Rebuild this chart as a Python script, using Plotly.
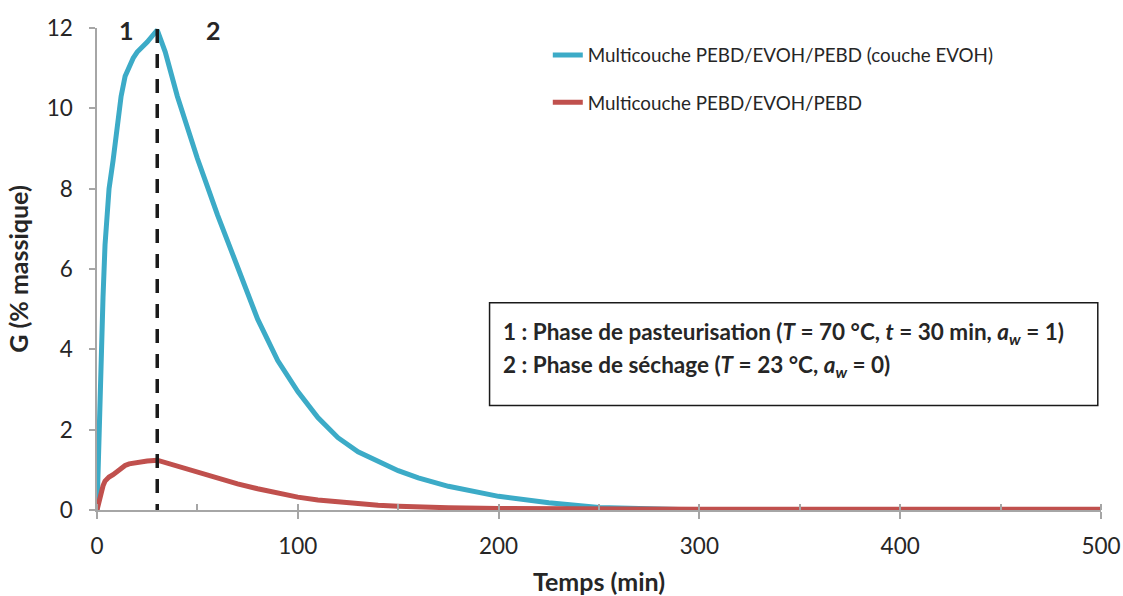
import plotly.graph_objects as go

# ---- data ----
temps = [0, 1, 2, 3, 4, 5, 6, 8, 10, 12, 14, 16, 18, 20, 25, 30, 34, 40, 45, 50,
         55, 60, 70, 80, 90, 100, 110, 120, 130, 140, 150, 160, 175, 200, 225,
         250, 275, 300, 350, 400, 450, 500]
g_evoh = [0, 2.0, 3.8, 5.3, 6.6, 7.5, 8.0, 8.7, 9.5, 10.3, 10.8, 11.05, 11.25, 11.4,
          11.65, 11.95, 11.4, 10.3, 9.5, 8.75, 8.05, 7.35, 6.05, 4.75, 3.72, 2.95,
          2.3, 1.8, 1.45, 1.2, 0.98, 0.8, 0.59, 0.34, 0.18, 0.06, 0.02, 0, 0, 0, 0, 0]
g_multi = [0, 0.22, 0.45, 0.6, 0.72, 0.78, 0.82, 0.88, 0.97, 1.06, 1.11, 1.15, 1.17,
           1.19, 1.22, 1.24, 1.18, 1.09, 1.02, 0.95, 0.88, 0.8, 0.65, 0.53, 0.42,
           0.32, 0.25, 0.2, 0.155, 0.12, 0.095, 0.075, 0.055, 0.04, 0.03, 0.02,
           0.02, 0.02, 0.02, 0.02, 0.02, 0.02]
series_names = ["Multicouche PEBD/EVOH/PEBD (couche EVOH)", "Multicouche PEBD/EVOH/PEBD"]
x_ticks = [0, 100, 200, 300, 400, 500]
y_ticks = [0, 2, 4, 6, 8, 10, 12]
phase_change = 30
phase_labels = ["1", "2"]
phase_label_x = [14.6, 58]
box_lines = ["1 : Phase de pasteurisation (<i>T</i> = 70 °C, <i>t</i> = 30 min, <i>a<sub>w</sub></i> = 1)",
             "2 : Phase de séchage (<i>T</i> = 23 °C, <i>a<sub>w</sub></i> = 0)"]

FONT = "Lato, 'Open Sans', sans-serif"
BLUE = "#3CABC7"
RED = "#C0504D"
AX = "#A6A6A6"
TXT = "#262626"

fig = go.Figure()
fig.add_trace(go.Scatter(x=temps, y=g_evoh, mode="lines", name=series_names[0],
                         legendgroup="a", line=dict(color=BLUE, width=5)))
fig.add_trace(go.Scatter(x=temps, y=g_multi, mode="lines", name=series_names[1],
                         legendgroup="b", line=dict(color=RED, width=5)))

# dashed phase separator
fig.add_shape(type="line", x0=phase_change, x1=phase_change, y0=-0.2, y1=12,
              xref="x", yref="y", line=dict(color="#1a1a1a", width=3.5, dash="14px,11px"))

# phase labels
for lab, lx in zip(phase_labels, phase_label_x):
    fig.add_annotation(x=lx, y=11.95, xref="x", yref="y", text=f"<b>{lab}</b>",
                       showarrow=False, font=dict(family=FONT, size=25, color=TXT))

# info box
fig.add_shape(type="rect", x0=195.5, x1=498.4, y0=2.6, y1=5.16, xref="x", yref="y",
              line=dict(color="#1a1a1a", width=1.5), fillcolor="white", layer="above")
for i, line in enumerate(box_lines):
    fig.add_annotation(x=201, y=4.41 - i * 0.82, xref="x", yref="y", xanchor="left",
                       text=f"<b>{line}</b>", showarrow=False,
                       font=dict(family=FONT, size=22.5, color=TXT))

fig.update_layout(
    width=1123, height=596,
    margin=dict(l=97, r=22, t=28, b=85.5),
    plot_bgcolor="white", paper_bgcolor="white",
    font=dict(family=FONT, size=22.5, color=TXT),
    legend=dict(x=0.449, y=0.983, xanchor="left", yanchor="top",
                font=dict(family=FONT, size=18.8, color=TXT),
                tracegroupgap=20, bgcolor="rgba(0,0,0,0)"),
    xaxis=dict(range=[0, 500], tickvals=x_ticks, showgrid=False, zeroline=False,
               showline=True, linecolor=AX, linewidth=1.5, automargin=False,
               ticks="outside", ticklen=7, tickcolor=AX, tickwidth=1.5,
               minor=dict(dtick=50, ticks="inside", ticklen=6, tickcolor=AX, tickwidth=1.5),
               ticklabelstandoff=8,
               tickfont=dict(family=FONT, size=22.5, color=TXT),
               title=dict(text="<b>Temps (min)</b>", standoff=18,
                          font=dict(family=FONT, size=25, color=TXT))),
    yaxis=dict(range=[0, 12], tickvals=y_ticks, showgrid=False, zeroline=False,
               showline=True, linecolor=AX, linewidth=1.5, automargin=False,
               ticks="outside", ticklen=6, tickcolor=AX, tickwidth=1.5,
               ticklabelstandoff=12,
               tickfont=dict(family=FONT, size=22.5, color=TXT),
               title=dict(text="<b>G (% massique)</b>", standoff=11,
                          font=dict(family=FONT, size=25, color=TXT))),
)

# remove the page's default body margin / scrollbars so the figure fills the window
fig.write_html("out.html", config={"displayModeBar": False},
               post_script="document.body.style.margin='0';document.body.style.overflow='hidden';")
